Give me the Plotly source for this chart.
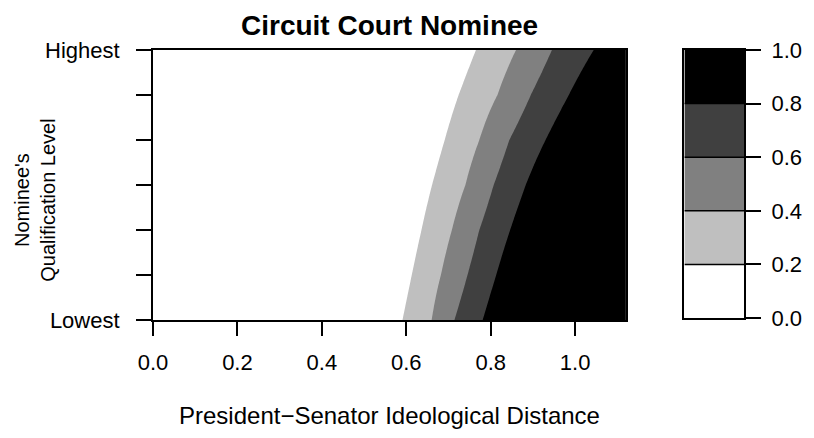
import numpy as np
import plotly.graph_objects as go

# ---- data ----
qual_levels = [0, 1, 2, 3, 4, 5, 6]                      # Lowest .. Highest
qual_ticktext = ["Lowest", "", "", "", "", "", "Highest"]
contour_levels = [0.2, 0.4, 0.6, 0.8]
# x (ideological distance) where the predicted probability crosses each level, per qualification level
cross_02 = [0.591, 0.613, 0.636, 0.661, 0.691, 0.724, 0.765]
cross_04 = [0.660, 0.682, 0.708, 0.740, 0.773, 0.816, 0.860]
cross_06 = [0.714, 0.745, 0.773, 0.807, 0.844, 0.895, 0.945]
cross_08 = [0.781, 0.813, 0.846, 0.883, 0.930, 0.985, 1.044]
x_min, x_max = 0.0, 1.12
x_ticks = [0.0, 0.2, 0.4, 0.6, 0.8, 1.0]
bar_levels = [0.0, 0.2, 0.4, 0.6, 0.8, 1.0]
band_colors = ["#FFFFFF", "#BFBFBF", "#808080", "#404040", "#000000"]

# ---- build the probability grid from the crossing points (linear, extended at the ends) ----
xg = np.linspace(x_min, x_max, 449)
z = []
for i in range(len(qual_levels)):
    xp = [cross_02[i], cross_04[i], cross_06[i], cross_08[i]]
    fp = contour_levels
    row = np.interp(xg, xp, fp)
    lo_slope = (fp[1] - fp[0]) / (xp[1] - xp[0])
    hi_slope = (fp[-1] - fp[-2]) / (xp[-1] - xp[-2])
    row = np.where(xg < xp[0], fp[0] - (xp[0] - xg) * lo_slope, row)
    row = np.where(xg > xp[-1], fp[-1] + (xg - xp[-1]) * hi_slope, row)
    z.append(row)
z = np.array(z)

FONT = "Liberation Sans, Arial, sans-serif"
fs = 22
n = len(band_colors)
cscale = [[k / (n - 1), c] for k, c in enumerate(band_colors)]

fig = go.Figure()
fig.add_trace(go.Contour(
    x=xg, y=qual_levels, z=z,
    contours=dict(start=contour_levels[0], end=contour_levels[-1],
                  size=contour_levels[1] - contour_levels[0], coloring="fill", showlines=False),
    line=dict(width=0, smoothing=0),
    colorscale=cscale, showscale=False, hoverinfo="skip",
    xaxis="x", yaxis="y",
))

# key (legend bar)
fig.add_trace(go.Heatmap(
    x=[0, 1], y=bar_levels, z=[[k] for k in range(n)],
    zmin=0, zmax=n - 1, colorscale=cscale, showscale=False,
    xaxis="x2", yaxis="y2", hoverinfo="skip",
))
sep_x, sep_y = [], []
for lv in bar_levels[1:-1]:
    sep_x += [0, 1, None]
    sep_y += [lv, lv, None]
fig.add_trace(go.Scatter(x=sep_x, y=sep_y, mode="lines",
                         line=dict(color="black", width=1.5),
                         xaxis="x2", yaxis="y2", showlegend=False, hoverinfo="skip"))

axis_common = dict(showgrid=False, zeroline=False, showline=True, linecolor="black",
                   linewidth=2, mirror=True, ticks="outside", tickcolor="black",
                   tickwidth=1.5, tickfont=dict(family=FONT, size=fs, color="black"))

fig.update_layout(
    width=814, height=438,
    margin=dict(l=153, r=66, t=50, b=118),
    paper_bgcolor="white", plot_bgcolor="white",
    showlegend=False,
    xaxis=dict(domain=[0, 476 / 595], range=[x_min, x_max], tickvals=x_ticks,
               tickformat=".1f", ticklen=14, ticklabelstandoff=8, anchor="y", **axis_common),
    yaxis=dict(domain=[0, 1], range=[qual_levels[0], qual_levels[-1]], tickvals=qual_levels,
               ticktext=qual_ticktext, ticklen=15, ticklabelstandoff=12, anchor="x", **axis_common),
    xaxis2=dict(domain=[535 / 595, 1], range=[0, 1], showgrid=False, zeroline=False,
                showline=True, linecolor="black", linewidth=2, mirror=True,
                showticklabels=False, ticks="", anchor="y2"),
    yaxis2=dict(domain=[2 / 270, 1], range=[0, 1], tickvals=bar_levels, tickformat=".1f",
                side="right", ticklen=15, ticklabelstandoff=6, anchor="x2", **axis_common),
    annotations=[
        dict(text="<b>Circuit Court Nominee</b>", xref="x domain", yref="y domain",
             x=0.5, y=(320 - 25) / 270, xanchor="center", yanchor="middle", showarrow=False,
             font=dict(family=FONT, size=28, color="black")),
        dict(text="President\u2212Senator Ideological Distance", xref="x domain", yref="y domain",
             x=0.5, y=(320 - 415) / 270, xanchor="center", yanchor="middle", showarrow=False,
             font=dict(family=FONT, size=24, color="black")),
        dict(text="Nominee's<br>Qualification Level", xref="x domain", yref="y domain",
             x=(34 - 153) / 476, y=(320 - 200) / 270, xanchor="center", yanchor="middle",
             textangle=-90, showarrow=False,
             font=dict(family=FONT, size=20, color="black")),
    ],
)

fig.write_html("out.html", config={"displayModeBar": False},
               post_script="document.body.style.margin='0px';")
